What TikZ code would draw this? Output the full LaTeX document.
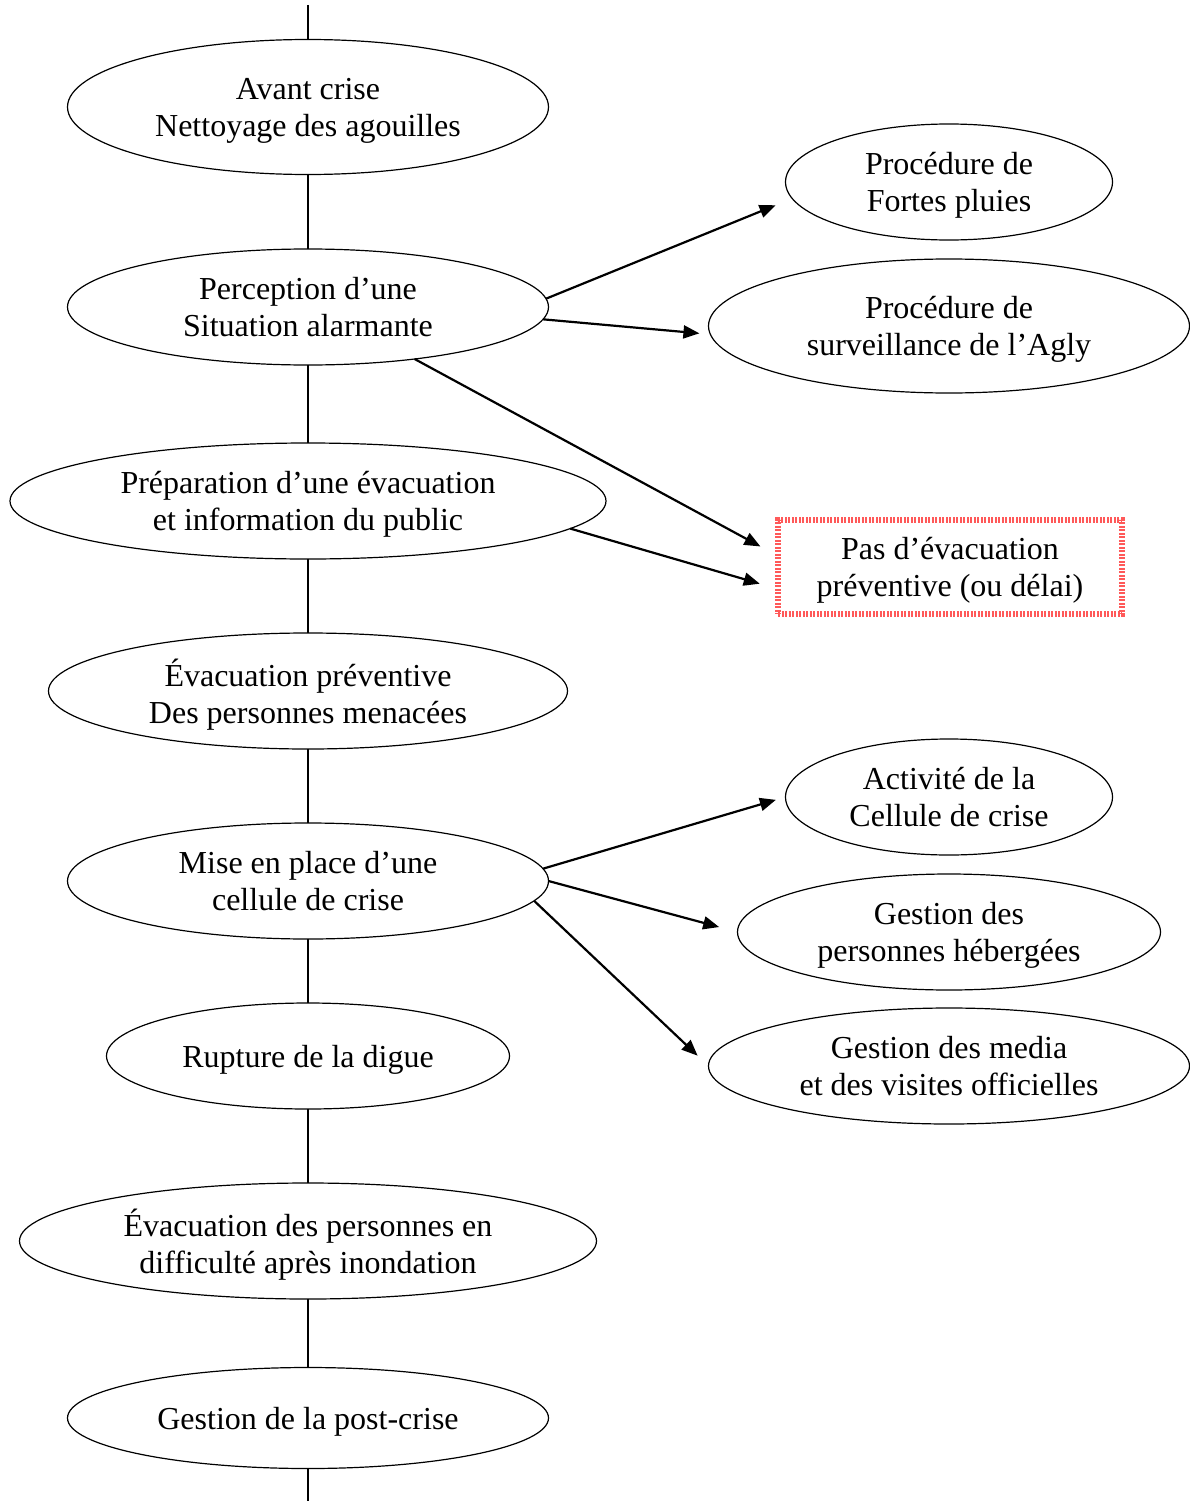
\documentclass[tikz,border=0pt]{standalone}
\usepackage{fontspec}
\setmainfont{Liberation Serif}
\usetikzlibrary{shapes.geometric,arrows.meta}

\begin{document}
\begin{tikzpicture}[
    x=1pt, y=-1pt,
    phase/.style={draw, ellipse, line width=1.2pt, inner sep=0pt, outer sep=0pt,
                  text depth=0pt, align=center, font=\fontsize{32}{37}\selectfont},
    warn/.style={draw=red!65, line width=6pt, dash pattern=on 2pt off 1.5pt,
                 inner sep=0pt, outer sep=0pt, minimum width=344pt, minimum height=94pt,
                 text depth=0pt, align=center, font=\fontsize{32}{37}\selectfont},
    link/.style={line width=1.2pt},
    arr/.style={-{Triangle[length=16pt,width=13pt]}, line width=2.2pt}
  ]
  \useasboundingbox (0,0) rectangle (1190,1501);

  % main sequence
  \coordinate (top) at (308,5);
  \node[phase, minimum width=481pt, minimum height=135pt] (avant) at (308,107)
    {Avant crise\\Nettoyage des agouilles};
  \node[phase, minimum width=481pt, minimum height=116pt] (percep) at (308,307)
    {Perception d’une\\Situation alarmante};
  \node[phase, minimum width=596pt, minimum height=116pt] (prepa) at (308,501)
    {Préparation d’une évacuation\\et information du public};
  \node[phase, minimum width=519pt, minimum height=116pt] (evacprev) at (308,691)
    {Évacuation préventive\\Des personnes menacées};
  \node[phase, minimum width=481pt, minimum height=116pt] (cellule) at (308,881)
    {Mise en place d’une\\cellule de crise};
  \node[phase, minimum width=403pt, minimum height=106pt] (rupture) at (308,1056)
    {Rupture de la digue};
  \node[phase, minimum width=577pt, minimum height=116pt] (evacapres) at (308,1241)
    {Évacuation des personnes en\\difficulté après inondation};
  \node[phase, minimum width=481pt, minimum height=101pt] (postcrise) at (308,1418)
    {Gestion de la post-crise};
  \coordinate (bottom) at (308,1501);

  % side branches
  \node[phase, minimum width=327pt, minimum height=116pt] (pluies) at (949,182)
    {Procédure de\\Fortes pluies};
  \node[phase, minimum width=481pt, minimum height=134pt] (agly) at (949,326)
    {Procédure de\\surveillance de l’Agly};
  \node[warn] (noevac) at (950,567)
    {Pas d’évacuation\\préventive (ou délai)};
  \node[phase, minimum width=327pt, minimum height=116pt] (activite) at (949,797)
    {Activité de la\\Cellule de crise};
  \node[phase, minimum width=423pt, minimum height=116pt] (heberg) at (949,932)
    {Gestion des\\personnes hébergées};
  \node[phase, minimum width=481pt, minimum height=116pt] (media) at (949,1066)
    {Gestion des media\\et des visites officielles};

  \draw[link] (top) -- (avant);
  \draw[link] (avant) -- (percep);
  \draw[link] (percep) -- (prepa);
  \draw[link] (prepa) -- (evacprev);
  \draw[link] (evacprev) -- (cellule);
  \draw[link] (cellule) -- (rupture);
  \draw[link] (rupture) -- (evacapres);
  \draw[link] (evacapres) -- (postcrise);
  \draw[link] (postcrise) -- (bottom);

  \draw[arr, shorten >=18pt] (percep.2) -- (pluies.186);
  \draw[arr, shorten >=11pt] (percep.357) -- (agly.182);
  \draw[arr, shorten >=20pt] (percep.334) -- ([yshift=11pt]noevac.west);
  \draw[arr, shorten >=19pt] (prepa.354) -- ([yshift=-22pt]noevac.west);
  \draw[arr, shorten >=10pt] (cellule.3) -- (activite.west);
  \draw[arr, shorten >=19pt] (cellule.east) -- (heberg.west);
  \draw[arr, shorten >=15pt] (cellule.355) -- (media.west);
\end{tikzpicture}
\end{document}
